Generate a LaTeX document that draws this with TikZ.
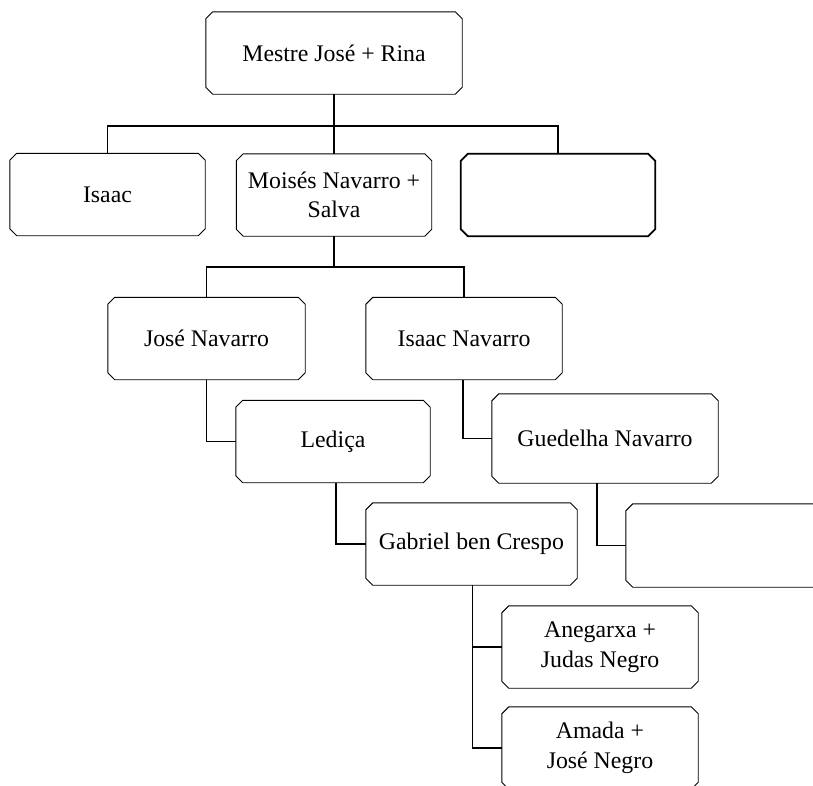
\documentclass[tikz,border=0pt]{standalone}
\usepackage{fontspec}
\setmainfont{Liberation Serif}
\begin{document}
\begin{tikzpicture}[x=1pt,y=-1pt,
  famnode/.style={rectangle, align=center, inner sep=0pt,
    minimum width=#1, minimum height=82pt,
    font=\fontsize{23.8}{29.5}\selectfont},
  famnode/.default=195pt,
  outline/.style={line width=0.9pt, line join=miter},
  link/.style={line width=1.4pt}]
\useasboundingbox[fill=white] (0,0) rectangle (813,785);

% generations
\node[famnode=256pt] (top) at (334,53) {Mestre José + Rina};

\node[famnode] (isaac) at (107.5,194.5) {Isaac};
\node[famnode] (moises) at (334,195) {Moisés Navarro +\\Salva};
\node[famnode=194pt] (blank) at (558,195) {};

\node[famnode=197pt] (joseN) at (206.5,338.5) {José Navarro};
\node[famnode=196pt] (isaacN) at (464,338.5) {Isaac Navarro};

\node[famnode=194pt] (ledica) at (333,441.5) {Lediça};
\node[famnode=226pt, minimum height=89pt] (guedelha) at (605,438.5) {Guedelha Navarro};

\node[famnode=211pt] (gabriel) at (471.5,544) {Gabriel ben Crespo};
\node[famnode=195pt, minimum height=83pt] (rightblank) at (723.5,545.5) {};

\node[famnode=196pt] (anegarxa) at (600,647) {Anegarxa +\\Judas Negro};
\node[famnode=196pt] (amada) at (600,748) {Amada +\\José Negro};

% chamfered outlines of the boxes
\foreach \n/\w in {top/0.9pt, isaac/0.9pt, moises/0.9pt, blank/1.8pt,
                   joseN/0.9pt, isaacN/0.9pt, ledica/0.9pt, guedelha/0.9pt,
                   gabriel/0.9pt, rightblank/0.9pt, anegarxa/0.9pt, amada/0.9pt}
  \draw[outline, line width=\w]
    ([xshift=7pt]\n.north west) -- ([xshift=-7pt]\n.north east)
    -- ([yshift=-7pt]\n.north east) -- ([yshift=7pt]\n.south east)
    -- ([xshift=-7pt]\n.south east) -- ([xshift=7pt]\n.south west)
    -- ([yshift=7pt]\n.south west) -- ([yshift=-7pt]\n.north west) -- cycle;

% connectors
\coordinate (bus1) at (334,126);
\coordinate (bus2) at (334,267);
\draw[link] (top.south) -- (moises.north);
\draw[link] (isaac.north) |- (bus1) -| (blank.north);
\draw[link] (moises.south) -- (bus2);
\draw[link] (joseN.north) |- (bus2) -| (isaacN.north);
\draw[link] (joseN.south) |- (ledica.west);
\draw[link] ([xshift=-1pt]isaacN.south) |- (guedelha.west);
\draw[link] ([xshift=-8pt]guedelha.south) |- (rightblank.west);
\draw[link] ([xshift=3pt]ledica.south) |- (gabriel.west);
\draw[link] ([xshift=1pt]gabriel.south) |- (anegarxa.west);
\draw[link] ([xshift=1pt]gabriel.south) |- (amada.west);
\end{tikzpicture}
\end{document}
